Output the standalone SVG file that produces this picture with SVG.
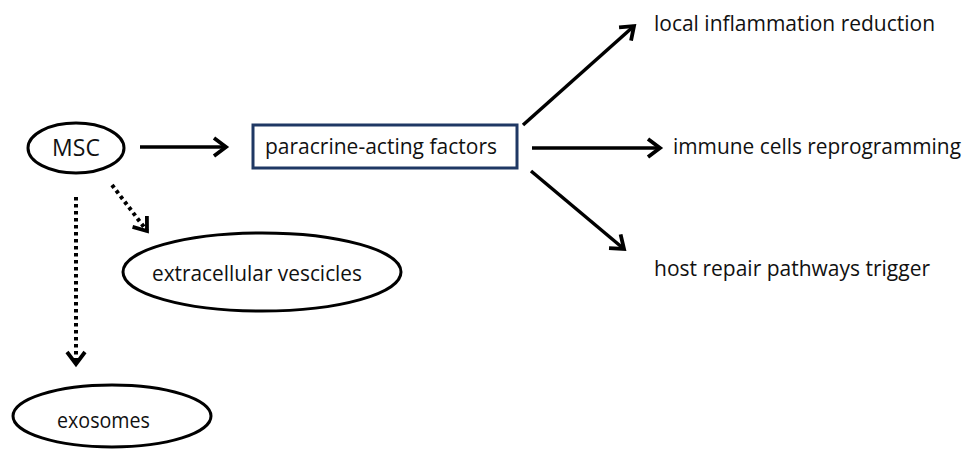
<svg xmlns="http://www.w3.org/2000/svg" width="963" height="450" viewBox="0 0 963 450">
<defs>
<marker id="arr" markerUnits="userSpaceOnUse" markerWidth="20" markerHeight="24" refX="14" refY="10" orient="auto" viewBox="0 0 20 20">
<path d="M2,1 L14,10 L2,19" fill="none" stroke="#000" stroke-width="3.8" stroke-linejoin="miter"/>
</marker>
</defs>
<style>
.lbl{font-family:"Open Sans","Liberation Sans",sans-serif;font-size:21px;fill:#111}
.node{fill:#fff;stroke:#000;stroke-width:3}
.solid{stroke:#000;stroke-width:3.5;fill:none;marker-end:url(#arr)}
.dot{stroke:#000;stroke-width:4;fill:none;stroke-dasharray:3.5 3.5;marker-end:url(#arr)}
</style>
<rect width="963" height="450" fill="#fff"/>
<g id="connectors">
<line class="solid" x1="140" y1="147" x2="226" y2="147"/>
<line class="solid" x1="523" y1="125" x2="634" y2="26"/>
<line class="solid" x1="532" y1="148" x2="660" y2="148"/>
<line class="solid" x1="531" y1="171" x2="624" y2="249"/>
<line class="dot" x1="76" y1="197" x2="76" y2="364"/>
<line class="dot" x1="112" y1="185" x2="147" y2="231"/>
</g>
<g id="msc">
<ellipse class="node" cx="76" cy="148" rx="48" ry="25"/>
<text class="lbl" x="76" y="156" text-anchor="middle" style="font-size:23px">MSC</text>
</g>
<g id="paracrine">
<rect x="253" y="125" width="264" height="43" fill="#fff" stroke="#1f3864" stroke-width="3"/>
<text class="lbl" x="265" y="154" textLength="232" lengthAdjust="spacingAndGlyphs">paracrine-acting factors</text>
</g>
<g id="ev">
<ellipse class="node" cx="262" cy="272" rx="139" ry="39"/>
<text class="lbl" x="152" y="281" textLength="210" lengthAdjust="spacingAndGlyphs">extracellular  vescicles</text>
</g>
<g id="exosomes">
<ellipse class="node" cx="112" cy="416" rx="99" ry="31"/>
<text class="lbl" x="57" y="428" textLength="93" lengthAdjust="spacingAndGlyphs">exosomes</text>
</g>
<g id="inflammation">
<text class="lbl" x="654" y="31" textLength="281" lengthAdjust="spacingAndGlyphs">local inflammation reduction</text>
</g>
<g id="immune">
<text class="lbl" x="673" y="154" textLength="288" lengthAdjust="spacingAndGlyphs">immune cells reprogramming</text>
</g>
<g id="repair">
<text class="lbl" x="654" y="276" textLength="276" lengthAdjust="spacingAndGlyphs">host repair pathways trigger</text>
</g>
</svg>
